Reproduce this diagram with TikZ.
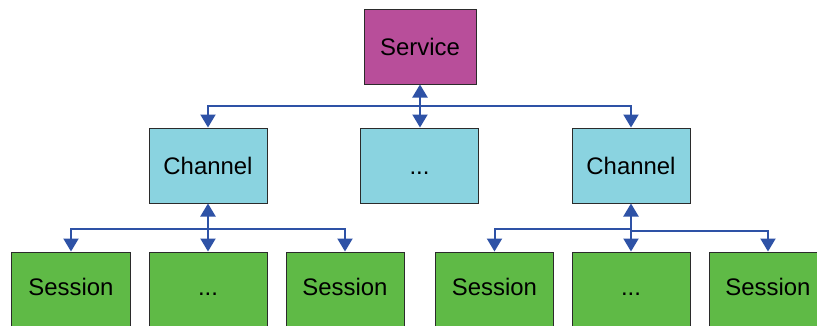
\documentclass[tikz,border=0pt]{standalone}
\usepackage{fontspec}
\setmainfont{Liberation Sans}
\usetikzlibrary{arrows.meta}
\definecolor{servfill}{HTML}{B84E9A}
\definecolor{chanfill}{HTML}{8AD3E0}
\definecolor{sessfill}{HTML}{5FBA46}
\definecolor{linkblue}{HTML}{2E52A6}
\definecolor{edge}{HTML}{2B2B2B}
\tikzset{
  box/.style={draw=edge, line width=1bp, inner sep=0pt,
    minimum width=118bp, minimum height=75bp,
    text height=17bp, text depth=0bp,
    font=\fontsize{24}{28}\selectfont},
  servbox/.style={box, fill=servfill, minimum width=112bp},
  chanbox/.style={box, fill=chanfill},
  sessbox/.style={box, fill=sessfill, text depth=5bp},
  link/.style={draw=linkblue, line width=2bp,
    arrows={-Triangle[width=15bp,length=13bp]}},
  duallink/.style={link, arrows={Triangle[width=15bp,length=13bp]-Triangle[width=15bp,length=13bp]}}
}
\begin{document}
\begin{tikzpicture}[x=1bp,y=-1bp]
\clip (0,0) rectangle (817,325);
\fill[white] (0,0) rectangle (817,325);

% top level
\node[servbox] (serv) at (420,46.5) {Service};

% middle level
\node[chanbox] (ch1) at (208,165.5) {Channel};
\node[chanbox] (ch2) at (419.5,165.5) {...};
\node[chanbox] (ch3) at (631,165.5) {Channel};

% bottom level (boxes run past the lower edge)
\node[sessbox] (s1) at (71,289.5) {Session};
\node[sessbox] (s2) at (208,289.5) {...};
\node[sessbox] (s3) at (345,289.5) {Session};
\node[sessbox] (s4) at (494.5,289.5) {Session};
\node[sessbox] (s5) at (631,289.5) {...};
\node[sessbox] (s6) at (768,289.5) {Session};

% service to channels
\coordinate (hub0) at (420,106);
\draw[link] (hub0) -| (ch1.north);
\draw[link] (hub0) -| (ch3.north);
\draw[duallink] (serv.south) -- (serv.south |- ch2.north);

% left channel to its sessions
\coordinate (hub1) at (208,229);
\draw[link] (hub1) -| (s1.north);
\draw[link] (hub1) -| (s3.north);
\draw[duallink] (ch1.south) -- (s2.north);

% right channel to its sessions
\coordinate (hub2) at (631,229);
\coordinate (hub3) at (631,230.5);
\draw[link] (hub2) -| (s4.north);
\draw[link] (hub3) -| (s6.north);
\draw[duallink] (ch3.south) -- (s5.north);
\end{tikzpicture}
\end{document}
